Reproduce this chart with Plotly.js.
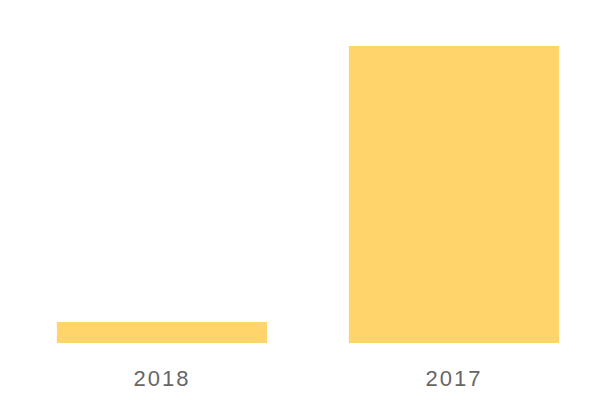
<!DOCTYPE html>
<html>
<head>
<meta charset="utf-8">
<script src="https://cdn.plot.ly/plotly-3.0.1.min.js"></script>
<style>
html,body{margin:0;padding:0;background:#fff;}
#chart{width:600px;height:400px;}
#chart .xtick text{letter-spacing:2px;}
</style>
</head>
<body>
<div id="chart"></div>
<script>
const categories = ["2018", "2017"];
const values = [17, 240];
const barColor = "#FFD56B";

const trace = {
  type: "bar",
  x: categories,
  y: values,
  marker: {color: barColor},
  hoverinfo: "none"
};

const layout = {
  width: 600,
  height: 400,
  margin: {l: 16, r: 0, t: 46, b: 57, pad: 0},
  paper_bgcolor: "#ffffff",
  plot_bgcolor: "#ffffff",
  bargap: 0.28,
  showlegend: false,
  xaxis: {
    type: "category",
    showgrid: false,
    zeroline: false,
    showline: false,
    ticks: "",
    tickfont: {family: "'Liberation Sans', Arial, sans-serif", size: 22, color: "#666666"},
    ticklabelstandoff: 20
  },
  yaxis: {
    range: [0, Math.max(...values)],
    visible: false,
    showgrid: false,
    zeroline: false
  }
};

Plotly.newPlot("chart", [trace], layout, {displayModeBar: false, staticPlot: true});
</script>
</body>
</html>
